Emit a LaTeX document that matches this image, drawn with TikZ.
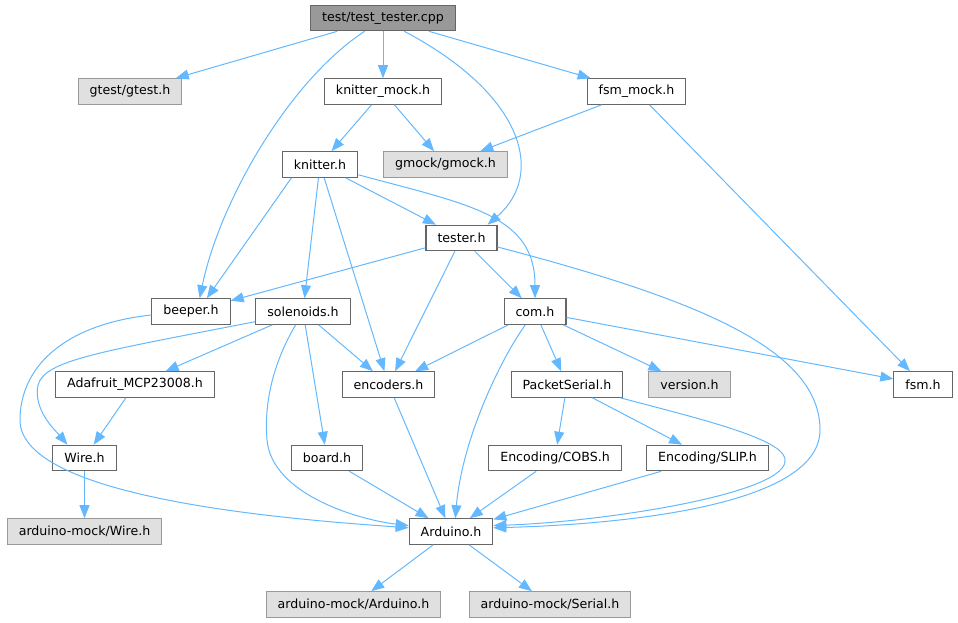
\documentclass[tikz,border=0pt]{standalone}
\usepackage{fontspec}
\setmainfont{DejaVu Sans}
\usepackage{tikz}
\usetikzlibrary{arrows.meta}

\definecolor{edgeblue}{HTML}{63B8FF}
\definecolor{boxline}{HTML}{666666}
\definecolor{extline}{HTML}{999999}
\definecolor{extfill}{HTML}{E0E0E0}
\definecolor{rootfill}{HTML}{999999}

\begin{document}
\begin{tikzpicture}[x=1pt,y=-1pt,
  file/.style={rectangle,draw=boxline,fill=white,line width=1.1pt,minimum height=25.5pt,
    inner xsep=11.5pt,inner ysep=0pt,font=\fontsize{12.6}{15}\selectfont},
  ext/.style={file,draw=extline,fill=extfill},
  root/.style={file,fill=rootfill},
  edge/.style={draw=edgeblue,line width=1pt,-{Triangle[length=13pt,width=10pt]},fill=none}]
\useasboundingbox (0,0) rectangle (958,623);
\node (cpp) [root] at (383,18) {test/test\_tester.cpp};
\node (gtest) [ext] at (130,91.5) {gtest/gtest.h};
\node (kmock) [file] at (383,91.5) {knitter\_mock.h};
\node (fmock) [file] at (636.5,91.5) {fsm\_mock.h};
\node (gmock) [ext] at (445.5,164.5) {gmock/gmock.h};
\node (knitter) [file] at (320,164.5) {knitter.h};
\node (tester) [file] at (461.5,238) {tester.h};
\node (beeper) [file] at (191,311.5) {beeper.h};
\node (sol) [file] at (303,311.5) {solenoids.h};
\node (com) [file] at (535,311.5) {com.h};
\node (mcp) [file] at (135,384.5) {Adafruit\_MCP23008.h};
\node (enc) [file] at (388.5,384.5) {encoders.h};
\node (ps) [file] at (567,384.5) {PacketSerial.h};
\node (ver) [ext] at (689.5,384.5) {version.h};
\node (fsm) [file] at (923,384.5) {fsm.h};
\node (wire) [file] at (84.5,458) {Wire.h};
\node (board) [file] at (327,458) {board.h};
\node (cobs) [file] at (555,458) {Encoding/COBS.h};
\node (slip) [file] at (707.5,458) {Encoding/SLIP.h};
\node (mwire) [ext] at (84.5,531.5) {arduino-mock/Wire.h};
\node (ard) [file] at (451,531.5) {Arduino.h};
\node (mard) [ext] at (353.5,604.5) {arduino-mock/Arduino.h};
\node (mser) [ext] at (550,604.5) {arduino-mock/Serial.h};
% top level
\draw [edge] (cpp) -- (gtest);
\draw [edge] (cpp) -- (kmock);
\draw [edge] (cpp) -- (fmock);
\draw [edge] (cpp.-144) .. controls (290,80) and (220,200) .. (beeper.57);
\draw [edge] (cpp.-32) .. controls (525,95) and (545,175) .. (tester.27);
\draw [edge] (kmock) -- (knitter);
\draw [edge] (kmock) -- (gmock);
\draw [edge] (fmock) -- (gmock);
\draw [edge] (fmock) -- (fsm);
% knitter.h
\draw [edge] (knitter.-155) -- (beeper.40);
\draw [edge] (knitter) -- (sol);
\draw [edge] (knitter) -- (enc);
\draw [edge] (knitter) -- (tester);
\draw [edge] (knitter.-15) .. controls (470,205) and (535,215) .. (com.north);
% tester.h
\draw [edge] (tester) -- (beeper);
\draw [edge] (tester) -- (enc);
\draw [edge] (tester) -- (com);
\draw [edge] (tester.-14) .. controls (700,300) and (820,350) .. (820,430)
  .. controls (820,510) and (600,525) .. (ard.5);
% beeper.h, solenoids.h
\draw [edge] (beeper.185) .. controls (60,325) and (20,370) .. (20,420)
  .. controls (20,500) and (300,520) .. (ard.175);
\draw [edge] (sol.192) .. controls (100,352) and (45,360) .. (38,385)
  .. controls (33,410) and (55,430) .. (wire.142);
\draw [edge] (sol) -- (mcp);
\draw [edge] (sol) -- (enc);
\draw [edge] (sol) -- (board);
\draw [edge] (sol.241) .. controls (272,365) and (264,405) .. (267,440)
  .. controls (272,495) and (360,520) .. (ard.172);
% com.h
\draw [edge] (com) -- (enc);
\draw [edge] (com.234) .. controls (500,360) and (462,440) .. (ard.72);
\draw [edge] (com) -- (ps);
\draw [edge] (com) -- (ver);
\draw [edge] (com) -- (fsm);
% lower levels
\draw [edge] (mcp) -- (wire);
\draw [edge] (enc) -- (ard);
\draw [edge] (ps) -- (cobs);
\draw [edge] (ps) -- (slip);
\draw [edge] (ps.-14) .. controls (700,419) and (790,440) .. (785,462)
  .. controls (780,495) and (600,522) .. (ard.8);
\draw [edge] (wire) -- (mwire);
\draw [edge] (board) -- (ard);
\draw [edge] (cobs) -- (ard);
\draw [edge] (slip) -- (ard);
\draw [edge] (ard) -- (mard);
\draw [edge] (ard) -- (mser);
\end{tikzpicture}
\end{document}
